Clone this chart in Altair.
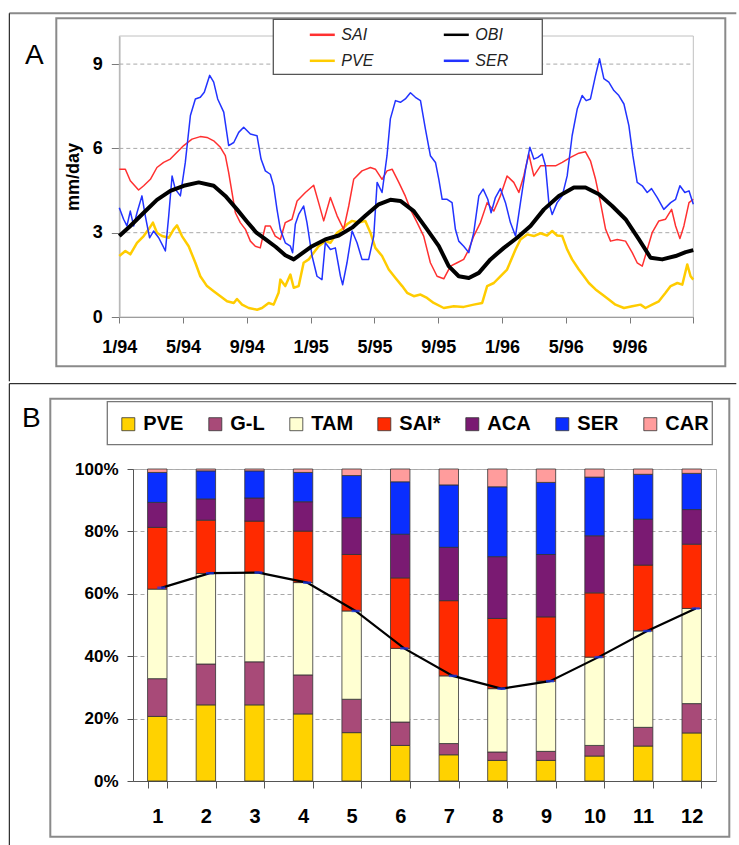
import json
import altair as alt
import pandas as pd

FONT = "Liberation Sans"

# ---------------- Panel A data (months since 1/94, mm/day) ----------------
tick_labels_a = ["1/94", "5/94", "9/94", "1/95", "5/95", "9/95", "1/96", "5/96", "9/96", ""]
series_order = ["SAI", "PVE", "OBI", "SER"]
series_colors = ["#FF3030", "#FFCC00", "#000000", "#2233FF"]
grid_a = [3, 6, 9]

sai_m = [0, 0.38, 0.69, 1.21, 1.53, 1.95, 2.36, 2.78, 3.2, 3.62, 4.04, 4.56, 5.08, 5.5, 5.92, 6.34, 6.65, 6.86,
         7.07, 7.28, 7.59, 7.91, 8.22, 8.53, 8.84, 9.16, 9.47, 9.78, 10.1, 10.41, 10.83, 11.15, 11.67, 12.19, 12.5,
         12.82, 13.24, 13.66, 14.07, 14.39, 14.7, 15.22, 15.75, 16.06, 16.48, 16.79, 17.11, 17.53, 17.94, 18.26,
         18.68, 19.09, 19.51, 19.93, 20.35, 20.77, 21.19, 21.6, 21.92, 22.23, 22.65, 23.07, 23.49, 23.9, 24.32,
         24.74, 25.06, 25.37, 25.68, 26.0, 26.42, 26.83, 27.36, 27.78, 28.3, 28.82, 29.24, 29.55, 29.87, 30.18,
         30.5, 30.81, 31.23, 31.75, 32.17, 32.48, 32.8, 33.11, 33.42, 33.84, 34.26, 34.64, 34.89, 35.16, 35.41,
         35.73, 36.0]
sai_v = [5.26, 5.26, 4.85, 4.52, 4.67, 4.9, 5.32, 5.5, 5.62, 5.86, 6.1, 6.33, 6.42, 6.39, 6.27, 6.04, 5.74, 5.14,
         4.43, 3.71, 3.36, 3.12, 2.70, 2.52, 2.46, 3.24, 3.24, 2.88, 2.76, 3.36, 3.48, 4.13, 4.43, 4.69, 4.07,
         3.42, 4.25, 3.60, 3.12, 3.95, 4.90, 5.2, 5.32, 5.26, 4.9, 5.2, 5.26, 4.79, 4.3, 3.83,
         3.36, 2.88, 1.93, 1.45, 1.36, 1.81, 1.93, 2.05, 2.40, 2.88, 3.36, 4.07, 3.77, 4.31, 5.02,
         4.79, 4.43, 5.02, 5.8, 5.02, 5.38, 5.38, 5.38, 5.5, 5.68, 5.83, 5.88, 5.56, 4.9, 4.07,
         3.12, 2.70, 2.76, 2.70, 2.29, 1.93, 1.81, 2.40, 3.0, 3.42, 3.48, 3.83, 3.24, 2.79, 3.24,
         4.07, 4.19]

pve_m = [0, 0.38, 0.69, 1.11, 1.53, 1.84, 2.11, 2.36, 2.68, 3.1, 3.41, 3.62, 3.93, 4.35, 4.77, 5.08, 5.5, 5.92,
         6.34, 6.76, 7.18, 7.38, 7.7, 8.12, 8.64, 8.95, 9.37, 9.68, 9.99, 10.1, 10.41, 10.73, 10.94, 11.25, 11.56,
         11.88, 12.19, 12.5, 12.92, 13.24, 13.66, 13.97, 14.28, 14.6, 15.02, 15.43, 15.75, 16.06, 16.48, 16.9,
         17.32, 17.74, 18.05, 18.47, 18.89, 19.3, 19.72, 20.35, 20.98, 21.6, 22.23, 22.76, 23.07, 23.49, 23.9,
         24.32, 24.85, 25.16, 25.58, 26.0, 26.42, 26.83, 27.15, 27.46, 27.78, 28.09, 28.4, 28.82, 29.14, 29.45,
         29.87, 30.29, 30.7, 31.12, 31.65, 32.17, 32.69, 33.0, 33.42, 33.84, 34.26, 34.58, 35.0, 35.31, 35.62,
         35.83, 36.0]
pve_v = [2.17, 2.35, 2.23, 2.64, 2.88, 3.12, 3.36, 3.0, 2.88, 2.82, 3.12, 3.26, 2.88, 2.52, 1.93, 1.45, 1.10, 0.92,
         0.74, 0.56, 0.50, 0.64, 0.44, 0.32, 0.26, 0.32, 0.5, 0.44, 0.86, 1.33, 1.10, 1.51, 1.04, 1.10, 1.93,
         2.05, 2.29, 2.52, 2.70, 2.64, 3.0, 3.12, 3.30, 3.42, 3.36, 3.42, 3.0, 2.46, 2.17, 1.69,
         1.39, 1.10, 0.86, 0.74, 0.80, 0.68, 0.5, 0.32, 0.38, 0.36, 0.44, 0.5, 1.10, 1.21, 1.45,
         1.69, 2.40, 2.76, 2.94, 2.88, 2.98, 2.9, 3.06, 2.90, 2.88, 2.40, 2.05, 1.69, 1.45, 1.21,
         0.98, 0.80, 0.62, 0.44, 0.32, 0.38, 0.44, 0.32, 0.44, 0.56, 0.86, 1.10, 1.21, 1.15, 1.87,
         1.45, 1.33]

obi_m = [0, 0.69, 1.53, 2.36, 3.2, 4.04, 4.98, 5.92, 6.65, 7.38, 8.0, 8.6, 9.2, 9.8, 10.41, 10.94, 11.46, 12.09,
         12.92, 13.76, 14.6, 15.43, 16.27, 17.0, 17.63, 18.47, 19.3, 20.04, 20.66, 21.29, 21.92, 22.55, 23.28,
         24.12, 24.95, 25.79, 26.63, 27.57, 28.51, 29.24, 30.08, 30.91, 31.75, 32.59, 33.32, 34.05, 34.89, 35.52,
         36.0]
obi_v = [2.88, 3.24, 3.71, 4.17, 4.49, 4.67, 4.79, 4.67, 4.31, 3.83, 3.4, 3.0, 2.75, 2.5, 2.2, 2.05, 2.26, 2.52,
         2.76, 2.90, 3.18, 3.60, 4.01, 4.17, 4.13, 3.77, 3.12, 2.52, 1.81, 1.45, 1.39, 1.57, 2.05,
         2.46, 2.82, 3.24, 3.83, 4.31, 4.61, 4.61, 4.37, 3.95, 3.48, 2.76, 2.11, 2.05, 2.17, 2.31,
         2.38]

ser_m = [0, 0.27, 0.48, 0.69, 0.9, 1.11, 1.42, 1.63, 1.9, 2.15, 2.47, 2.74, 2.89, 3.1, 3.31, 3.51, 3.83, 4.14,
         4.46, 4.77, 5.08, 5.33, 5.67, 5.92, 6.17, 6.55, 6.86, 7.18, 7.49, 7.8, 8.22, 8.64, 8.89, 9.16, 9.47,
         9.68, 9.89, 10.1, 10.41, 10.73, 10.87, 11.04, 11.25, 11.56, 11.77, 12.09, 12.4, 12.71, 12.92, 13.24,
         13.55, 13.87, 14.01, 14.28, 14.6, 14.91, 15.22, 15.64, 15.96, 16.17, 16.48, 16.79, 17.0, 17.32, 17.63,
         17.94, 18.26, 18.57, 18.89, 19.2, 19.51, 19.83, 20.04, 20.25, 20.56, 20.87, 21.08, 21.29, 21.6, 21.92,
         22.23, 22.55, 22.82, 23.11, 23.32, 23.59, 23.9, 24.22, 24.53, 24.85, 25.16, 25.48, 25.75, 26.0, 26.25,
         26.52, 26.73, 26.94, 27.15, 27.46, 27.78, 28.09, 28.4, 28.72, 29.03, 29.28, 29.55, 29.87, 30.12, 30.39,
         30.7, 31.02, 31.33, 31.65, 31.96, 32.21, 32.48, 32.8, 33.11, 33.38, 33.74, 34.15, 34.58, 34.89, 35.16,
         35.47, 35.73, 36.0]
ser_v = [3.89, 3.48, 3.24, 3.77, 3.24, 3.71, 4.31, 3.6, 2.82, 3.06, 2.82, 2.52, 2.35, 3.6, 5.02, 4.55, 4.31, 5.5,
         7.17, 7.76, 7.82, 8.0, 8.6, 8.36, 7.76, 7.29, 6.10, 6.21, 6.57, 6.75, 6.51, 6.45, 5.62, 5.2, 5.08,
         4.67, 3.83, 3.12, 2.64, 2.52, 2.29, 3.30, 3.65, 3.95, 3.36, 2.17, 1.45, 1.33, 2.64, 2.40,
         2.46, 1.45, 1.15, 1.93, 3.06, 2.64, 2.05, 2.05, 2.88, 4.79, 4.43, 5.74, 7.05, 7.70, 7.64,
         7.76, 7.98, 7.82, 7.70, 6.69, 5.74, 5.5, 4.90, 4.19, 4.19, 4.07, 3.12, 2.70, 2.52, 2.29,
         3.0, 4.31, 4.55, 4.19, 3.71, 4.25, 4.57, 4.07, 3.36, 2.88, 4.07, 5.26, 6.04, 5.62, 5.68,
         5.8, 5.38, 4.07, 3.65, 4.07, 4.31, 5.02, 6.45, 7.40, 7.88, 7.70, 7.76, 8.6, 9.19, 8.48,
         8.36, 8.06, 7.88, 7.58, 6.81, 5.74, 4.79, 4.67, 4.43, 4.57, 4.25, 3.83, 4.07, 4.19, 4.67,
         4.43, 4.49, 4.01]

# ---------------- Panel B data (% share per month) ----------------
months = ["1", "2", "3", "4", "5", "6", "7", "8", "9", "10", "11", "12"]
components = ["PVE", "G-L", "TAM", "SAI*", "ACA", "SER", "CAR"]
comp_colors = ["#FFD200", "#A84A78", "#FFFFD2", "#FF2A00", "#7A1A72", "#0A2EFF", "#FF9C9C"]
pve_b = [20.7, 24.4, 24.4, 21.5, 15.5, 11.4, 8.4, 6.6, 6.6, 8.0, 11.2, 15.4]
gl_b = [12.1, 13.1, 13.8, 12.5, 10.7, 7.5, 3.6, 2.7, 2.9, 3.4, 6.0, 9.4]
tam_b = [28.7, 29.0, 28.6, 29.6, 28.3, 23.6, 21.7, 20.3, 22.5, 28.3, 30.9, 30.5]
sai_b = [19.8, 17.1, 16.5, 16.5, 18.1, 22.6, 24.1, 22.5, 20.6, 20.6, 21.1, 20.6]
aca_b = [8.0, 6.8, 7.4, 9.4, 11.8, 14.0, 17.1, 19.8, 20.0, 18.3, 14.7, 11.1]
ser_b = [9.6, 9.0, 8.7, 9.4, 13.5, 16.8, 20.0, 22.4, 23.1, 18.8, 14.4, 11.6]
car_b = [1.1, 0.6, 0.6, 1.1, 2.1, 4.1, 5.1, 5.7, 4.3, 2.6, 1.7, 1.4]
obi_share = [61.9, 66.6, 66.8, 63.6, 54.5, 42.5, 33.7, 29.6, 32.0, 39.7, 48.1, 55.3]

# ---------------- build tables ----------------
rows = []
for name, ms, vs in [("SAI", sai_m, sai_v), ("OBI", obi_m, obi_v), ("PVE", pve_m, pve_v), ("SER", ser_m, ser_v)]:
    for m, v in zip(ms, vs):
        rows.append({"series": name, "m": m, "v": v})
df_a = pd.DataFrame(rows)
df_grid = pd.DataFrame({"v": grid_a})

comp_values = [pve_b, gl_b, tam_b, sai_b, aca_b, ser_b, car_b]
rows_b = []
for ci, (comp, vals) in enumerate(zip(components, comp_values)):
    for mo, val in zip(months, vals):
        rows_b.append({"month": mo, "comp": comp, "pct": val, "idx": ci})
df_b = pd.DataFrame(rows_b)
df_line = pd.DataFrame({"month": months, "share": obi_share})

one = pd.DataFrame({"d": [0]})

# Both panels share the same origin x on the page (concat aligns them);
# panel A's plot area starts 13.7 px further left through its scale range.
OX = 132.7
AY0 = 36.7
BY0 = 467.3
A_LEFT, A_RIGHT = 119.0, 693.0
A_H = 281


def px(p):
    return p - OX


def ay(p):
    return p - AY0


def by(p):
    return p - BY0


# ---------------- Panel A ----------------
x_scale_a = alt.Scale(domain=[0, 36], nice=False, zero=False, range=[px(A_LEFT), px(A_RIGHT)])
x_a = alt.X("m:Q", scale=x_scale_a,
            axis=alt.Axis(values=list(range(0, 37, 4)),
                          labelExpr=json.dumps(tick_labels_a) + "[round(datum.value/4)]",
                          title=None, grid=False, tickSize=6, labelPadding=15, labelFontSize=18,
                          labelFontWeight="bold", labelFlush=False, labelOverlap=False,
                          domainColor="#7a7a7a", tickColor="#7a7a7a"))
y_axis_a = alt.Axis(values=[0, 3, 6, 9], title="mm/day", titleFontSize=18, titleFontWeight="bold",
                    titlePadding=10, labelFontSize=18, labelFontWeight="bold", labelPadding=9,
                    tickSize=8, grid=False, offset=OX - A_LEFT,
                    domainColor="#7a7a7a", tickColor="#7a7a7a")
y_a = alt.Y("v:Q", scale=alt.Scale(domain=[0, 10], nice=False), axis=y_axis_a)
color_a = alt.Color("series:N", scale=alt.Scale(domain=series_order, range=series_colors),
                    legend=alt.Legend(title=None, orient="none", legendX=px(308), legendY=ay(21.5),
                                      columns=2, symbolType="stroke", symbolSize=625,
                                      symbolStrokeWidth=2.5, labelFontSize=16, labelFontStyle="italic",
                                      labelColor="#222", labelOffset=5, columnPadding=64, rowPadding=4,
                                      padding=0))

a_grid = alt.Chart(df_grid).mark_rule(color="#a8a8a8", strokeWidth=1, strokeDash=[4, 3]).encode(
    y=y_a, x=alt.value(px(A_LEFT)), x2=alt.value(px(A_RIGHT)))
a_border = alt.Chart(one).mark_rect(fill="white", fillOpacity=0, stroke="#c0c0c0", strokeWidth=1).encode(
    x=alt.value(px(A_LEFT)), x2=alt.value(px(A_RIGHT)), y=alt.value(0), y2=alt.value(A_H))

widths = {"PVE": 2.5, "SAI": 1.5, "SER": 1.5, "OBI": 4.0}
line_layers = []
for s in ["PVE", "SAI", "SER", "OBI"]:
    line_layers.append(
        alt.Chart(df_a).transform_filter(alt.datum.series == s)
        .mark_line(strokeWidth=widths[s], strokeJoin="round")
        .encode(x=x_a, y=y_a, color=color_a)
    )

a_top = alt.Chart(one).mark_rule(color="#8a8a8a", strokeWidth=2).encode(
    x=alt.value(px(9)), x2=alt.value(px(736)), y=alt.value(ay(14)))
a_left = alt.Chart(one).mark_rule(color="#000000", strokeWidth=1).encode(
    x=alt.value(px(9)), y=alt.value(ay(14)), y2=alt.value(ay(382)))
a_frame = alt.Chart(one).mark_rect(fill="white", fillOpacity=0, stroke="#8a8a8a", strokeWidth=2).encode(
    x=alt.value(px(56)), x2=alt.value(px(725)), y=alt.value(ay(19)), y2=alt.value(ay(367)))
a_label = alt.Chart(pd.DataFrame({"t": ["A"]})).mark_text(
    fontSize=28, font=FONT, align="center", baseline="middle", color="#000").encode(
    text="t:N", x=alt.value(px(34)), y=alt.value(ay(57)))
a_legbox = alt.Chart(one).mark_rect(fill="white", stroke="#555555", strokeWidth=1.3).encode(
    x=alt.value(px(273)), x2=alt.value(px(542)), y=alt.value(ay(20)), y2=alt.value(ay(75)))

chart_a = alt.layer(a_top, a_left, a_frame, a_label, a_border, a_grid, *line_layers, a_legbox).properties(
    width=A_RIGHT - OX, height=A_H, view=alt.ViewBackground(strokeWidth=0))

# ---------------- Panel B ----------------
x_b = alt.X("month:N", sort=months,
            scale=alt.Scale(paddingInner=0.6, paddingOuter=0.3),
            axis=alt.Axis(title=None, labelAngle=0, labelFontSize=20, labelFontWeight="bold",
                          labelPadding=18, tickSize=7, tickBand="extent", grid=False,
                          domainColor="#555555", tickColor="#555555"))
y_b = alt.Y("pct:Q", stack="zero", scale=alt.Scale(domain=[0, 100], nice=False),
            axis=alt.Axis(values=[0, 20, 40, 60, 80, 100], labelExpr="datum.value + '%'", title=None,
                          labelFontSize=17, labelFontWeight="bold", labelPadding=9, tickSize=6,
                          grid=True, gridDash=[4, 3], gridColor="#a8a8a8",
                          domainColor="#555555", tickColor="#555555"))
color_b = alt.Color("comp:N", scale=alt.Scale(domain=components, range=comp_colors),
                    legend=alt.Legend(title=None, orient="none", legendX=px(118), legendY=by(412.5),
                                      direction="horizontal", symbolType="square", symbolSize=169,
                                      symbolStrokeColor="#333333", symbolStrokeWidth=0.8,
                                      labelFontSize=20, labelFontWeight="bold", labelOffset=5,
                                      columnPadding=21, padding=0))

bars = alt.Chart(df_b).mark_bar(stroke="#333333", strokeWidth=0.8).encode(
    x=x_b, y=y_b, color=color_b, order=alt.Order("idx:Q", sort="ascending"))
b_line = alt.Chart(df_line).mark_line(color="#000000", strokeWidth=2.2, xOffset=4).encode(
    x=alt.X("month:N", sort=months), y=alt.Y("share:Q"))
b_marks = alt.Chart(df_line).mark_tick(color="#1a3cff", thickness=2.5, size=8, xOffset=4).encode(
    x=alt.X("month:N", sort=months), y=alt.Y("share:Q"))

b_div = alt.Chart(one).mark_rule(color="#000000", strokeWidth=1).encode(
    x=alt.value(px(9)), x2=alt.value(px(736)), y=alt.value(by(382)))
b_left = alt.Chart(one).mark_rule(color="#000000", strokeWidth=1).encode(
    x=alt.value(px(9)), y=alt.value(by(382)), y2=alt.value(by(844)))
b_frame = alt.Chart(one).mark_rect(fill="white", fillOpacity=0, stroke="#8a8a8a", strokeWidth=2).encode(
    x=alt.value(px(50)), x2=alt.value(px(729)), y=alt.value(by(397)), y2=alt.value(by(835)))
b_label = alt.Chart(pd.DataFrame({"t": ["B"]})).mark_text(
    fontSize=28, font=FONT, align="center", baseline="middle", color="#000").encode(
    text="t:N", x=alt.value(px(31)), y=alt.value(by(417)))
b_legbox = alt.Chart(one).mark_rect(fill="white", stroke="#777777", strokeWidth=1.3).encode(
    x=alt.value(px(107)), x2=alt.value(px(712)), y=alt.value(by(400)), y2=alt.value(by(443)))

chart_b = alt.layer(b_div, b_left, b_frame, b_label, b_legbox, bars, b_line, b_marks).properties(
    width=583, height=312, view=alt.ViewBackground(stroke="#b0b0b0"))

chart = alt.concat(chart_a, chart_b, columns=1, spacing=0).properties(
    padding={"left": 8, "top": 12, "right": 0, "bottom": 0}, background="white"
).resolve_scale(color="independent").configure(font=FONT).configure_axis(
    labelFont=FONT, titleFont=FONT, labelColor="#000000", titleColor="#000000"
).configure_legend(labelFont=FONT)

chart.save("out.html", embed_options={"renderer": "svg", "actions": False})
